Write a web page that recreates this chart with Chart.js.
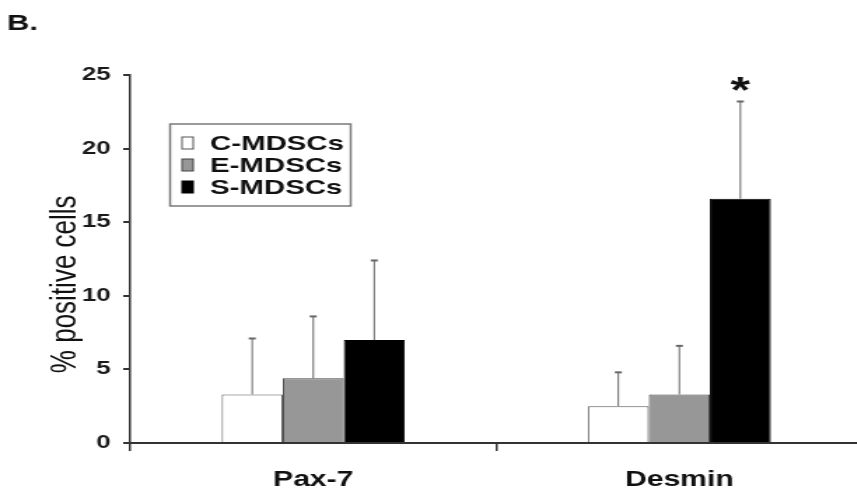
<!DOCTYPE html>
<html>
<head>
<meta charset="utf-8">
<script src="https://cdn.jsdelivr.net/npm/chart.js"></script>
<style>
  html, body { margin: 0; padding: 0; overflow: hidden; background: #fff; }
</style>
</head>
<body>
<!-- the source figure is stretched sideways, so the canvas is drawn narrow and widened -->
<canvas id="fig" width="620" height="495" style="display:block;width:868px;height:495px;"></canvas>
<script>
const groups = ['Pax-7', 'Desmin'];
const seriesNames = ['C-MDSCs', 'E-MDSCs', 'S-MDSCs'];
const cValues = [3.3, 2.5];
const eValues = [4.4, 3.3];
const sValues = [7.0, 16.6];
const cErrors = [3.8, 2.3];
const eErrors = [4.2, 3.3];
const sErrors = [5.4, 6.6];
const sMarks = ['', '*'];
const yTicks = [0, 5, 10, 15, 20, 25];

const FONT = '"Liberation Sans", Arial, sans-serif';

// error bars (up only) + significance mark
const errorBars = {
    id: 'errorBars',
    afterDatasetsDraw(chart) {
        const ctx = chart.ctx, y = chart.scales.y;
        chart.data.datasets.forEach((ds, i) => {
            chart.getDatasetMeta(i).data.forEach((bar, j) => {
                const top = y.getPixelForValue(ds.data[j] + ds.errors[j]);
                ctx.save();
                ctx.strokeStyle = '#666';
                ctx.lineWidth = 1;
                ctx.beginPath(); ctx.moveTo(bar.x, bar.y); ctx.lineTo(bar.x, top); ctx.stroke();
                ctx.lineWidth = 2;
                ctx.beginPath(); ctx.moveTo(bar.x - 2.5, top); ctx.lineTo(bar.x + 2.5, top); ctx.stroke();
                if (ds.marks && ds.marks[j]) {
                    ctx.fillStyle = '#111';
                    ctx.font = 'bold 36px ' + FONT;
                    ctx.textAlign = 'center';
                    ctx.textBaseline = 'alphabetic';
                    ctx.fillText(ds.marks[j], bar.x, top + 2);
                }
                ctx.restore();
            });
        });
    }
};

// boxed legend inside the plot
const boxLegend = {
    id: 'boxLegend',
    afterDraw(chart) {
        const ctx = chart.ctx;
        ctx.save();
        ctx.strokeStyle = '#7a7a7a';
        ctx.lineWidth = 1.5;
        ctx.strokeRect(121.5, 124, 129, 82);
        chart.data.datasets.forEach((ds, i) => {
            const cy = 143 + i * 22;
            ctx.fillStyle = ds.backgroundColor;
            ctx.fillRect(130, cy - 6, 8, 12);
            ctx.strokeStyle = ds.borderColor;
            ctx.lineWidth = 1;
            ctx.strokeRect(130, cy - 6, 8, 12);
            ctx.fillStyle = '#111';
            ctx.font = 'bold 21px ' + FONT;
            ctx.textAlign = 'left';
            ctx.textBaseline = 'middle';
            ctx.fillText(ds.label, 150, cy + 1);
        });
        ctx.restore();
    }
};

new Chart(document.getElementById('fig'), {
    type: 'bar',
    data: {
        labels: groups,
        datasets: [
            {label: seriesNames[0], data: cValues, errors: cErrors, backgroundColor: '#ffffff', borderColor: '#555', borderWidth: 1},
            {label: seriesNames[1], data: eValues, errors: eErrors, backgroundColor: '#979797', borderColor: '#444', borderWidth: 1},
            {label: seriesNames[2], data: sValues, errors: sErrors, marks: sMarks, backgroundColor: '#000000', borderColor: '#000', borderWidth: 1}
        ]
    },
    options: {
        responsive: false,
        animation: false,
        devicePixelRatio: 1,
        layout: { padding: { left: 5, right: 4, top: 0, bottom: 0 } },
        datasets: { bar: { categoryPercentage: 0.5, barPercentage: 1 } },
        plugins: {
            legend: { display: false },
            tooltip: { enabled: false },
            title: {
                display: true, text: 'B.', align: 'start', color: '#111',
                font: { family: FONT, size: 22, weight: 'bold' },
                padding: { top: 10.8, bottom: 37.8 }
            }
        },
        scales: {
            x: {
                afterFit(s) { s.height = 52; },
                grid: { drawOnChartArea: false, tickLength: 8, color: '#333', lineWidth: 1.5 },
                border: { display: true, color: '#333', width: 2 },
                ticks: { color: '#111', padding: 16, font: { family: FONT, size: 21.5, weight: 'bold' } }
            },
            y: {
                min: 0, max: 25,
                afterFit(s) { s.width = 88; },
                afterBuildTicks(s) { s.ticks = yTicks.map(v => ({ value: v })); },
                grid: { drawOnChartArea: false, tickLength: 5, color: '#333', lineWidth: 2 },
                border: { display: true, color: '#333', width: 1.5 },
                ticks: { color: '#1a1a1a', padding: 9, font: { family: FONT, size: 18.5, weight: 'bold' } },
                title: {
                    display: true, text: '% positive cells       ', color: '#111',
                    font: { family: FONT, size: 26 },
                    padding: { top: 26.5, bottom: 0 }
                }
            }
        }
    },
    plugins: [errorBars, boxLegend]
});
</script>
</body>
</html>
